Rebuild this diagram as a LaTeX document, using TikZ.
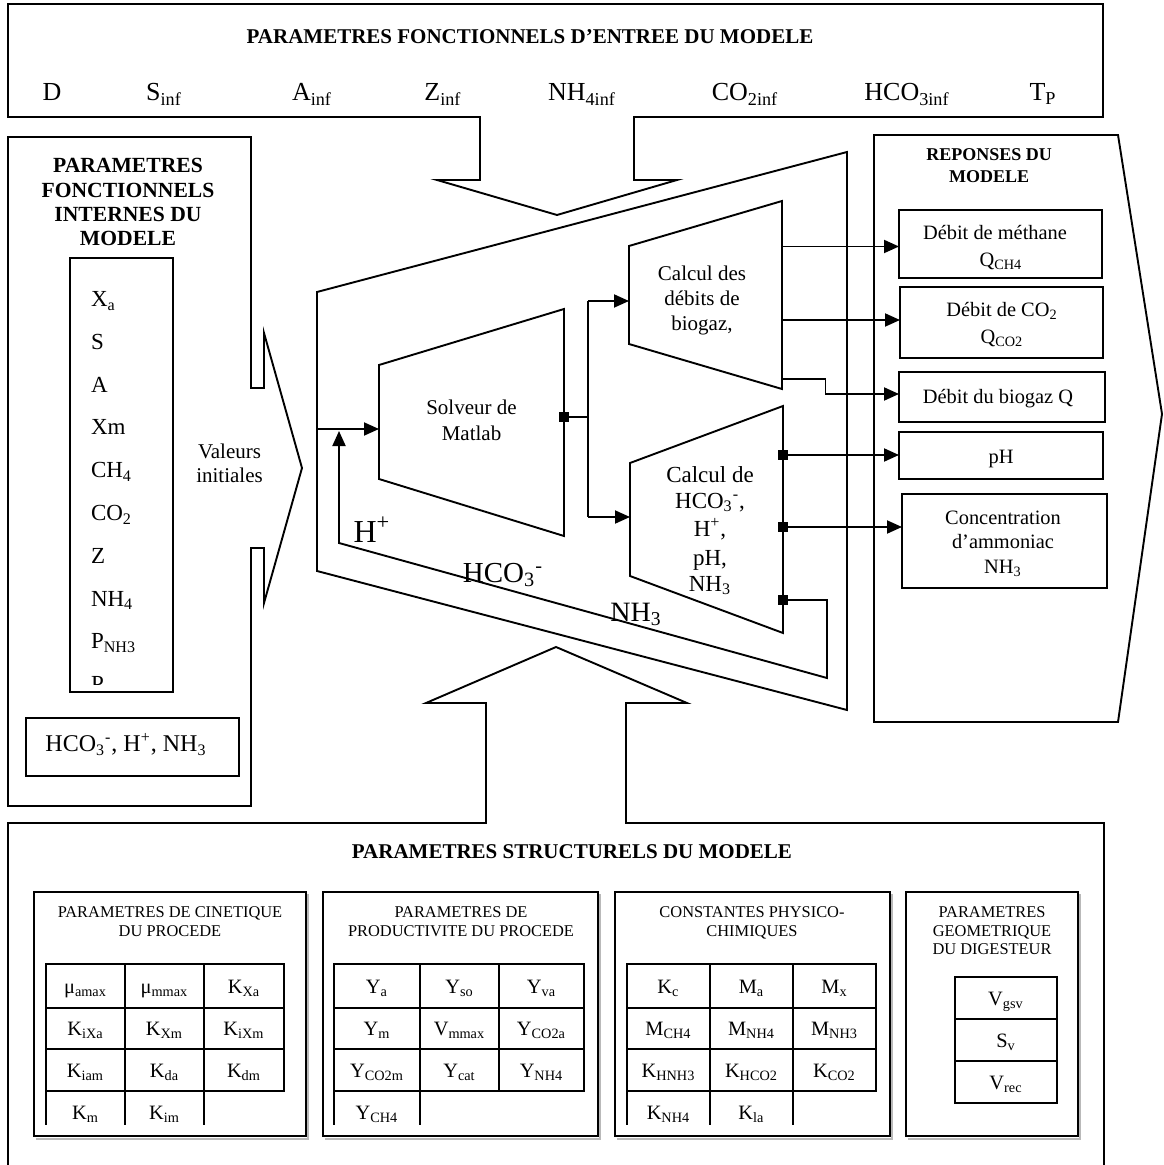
\documentclass[tikz,border=0pt]{standalone}
\usepackage{fontspec}
\setmainfont{Liberation Serif}
\usetikzlibrary{arrows.meta}
\newcommand{\myd}[1]{\textsubscript{#1}}
\newcommand{\myu}[1]{\textsuperscript{#1}}
\newcommand{\myfont}[1]{\fontsize{#1}{#1}\selectfont}
\begin{document}
\begin{tikzpicture}[x=0.5pt,y=-0.5pt,
  line width=0.95pt, line join=miter,
  every node/.style={inner sep=0pt,outer sep=0pt},
  t/.style={anchor=base},
  tw/.style={anchor=base west},
  arr/.style={-{Triangle[length=7.5pt,width=6.5pt]}},
  sqr/.style={fill=black,minimum size=5pt},
  rbox/.style={draw,line width=0.95pt},
  tb/.style={line width=1.1pt},
  shd/.style={draw=gray!55,line width=1pt},
  bt/.style={t,font=\myfont{10.5}\bfseries},
  it/.style={t,font=\myfont{13}},
  li/.style={tw,font=\myfont{11.5}},
  rt/.style={t,font=\myfont{10.2}},
  st/.style={t,font=\myfont{8.2}},
  ct/.style={t,font=\myfont{10.2}}
  ]
\useasboundingbox (0,0) rectangle (1163,1165);

% ---------------- top input box with down arrow
\draw (8,4) -- (1103,4) -- (1103,117) -- (634,117) -- (634,180) -- (677,180)
  -- (557,215) -- (437,180) -- (480,180) -- (480,117) -- (8,117) -- cycle;
\node[bt] (ttop) at (530,44) {PARAMETRES FONCTIONNELS D’ENTREE DU MODELE};
\node[it] (iD) at (52,101) {D};
\node[it] (iS) at (164,101) {S\myd{inf}};
\node[it] (iA) at (312,101) {A\myd{inf}};
\node[it] (iZ) at (443,101) {Z\myd{inf}};
\node[it] (iN) at (582,101) {NH\myd{4inf}};
\node[it] (iC) at (745,101) {CO\myd{2inf}};
\node[it] (iH) at (907,101) {HCO\myd{3inf}};
\node[it] (iT) at (1043,101) {T\myd{P}};

% ---------------- left panel with right arrow
\draw (8,137) -- (251,137) -- (251,388) -- (264,388) -- (264,333) -- (302,468)
  -- (264,603) -- (264,548) -- (251,548) -- (251,806) -- (8,806) -- cycle;
\node[t,font=\myfont{10.8}\bfseries] (lt1) at (128,173) {PARAMETRES};
\node[t,font=\myfont{10.8}\bfseries] (lt2) at (128,197.5) {FONCTIONNELS};
\node[t,font=\myfont{10.8}\bfseries] (lt3) at (128,222) {INTERNES DU};
\node[t,font=\myfont{10.8}\bfseries] (lt4) at (128,246) {MODELE};
\draw (70,258) rectangle (173,692);
\node[li] (l1) at (91,307) {X\myd{a}};
\node[li] (l2) at (91,349.7) {S};
\node[li] (l3) at (91,392.4) {A};
\node[li] (l4) at (91,435) {Xm};
\node[li] (l5) at (91,477.8) {CH\myd{4}};
\node[li] (l6) at (91,520.5) {CO\myd{2}};
\node[li] (l7) at (91,563.2) {Z};
\node[li] (l8) at (91,606) {NH\myd{4}};
\node[li] (l9) at (91,648.6) {P\myd{NH3}};
\begin{scope}
\clip (71,259) rectangle (172,684);
\node[li] (l10) at (91,691.3) {P};
\end{scope}
\node[t,font=\myfont{10.5}] (vi1) at (229.5,458) {Valeurs};
\node[t,font=\myfont{10.5}] (vi2) at (229.5,482.5) {initiales};
\draw (26,718) rectangle (239,776);
\node[t,font=\myfont{12}] (hb) at (126,751.5) {HCO\myd{3}\myu{-}, H\myu{+}, NH\myd{3}};

% ---------------- central processing block
\draw (317,292) -- (847,152) -- (847,710) -- (317,571) -- cycle;
% solver
\draw (379,365) -- (564,309) -- (564,536) -- (379,479) -- cycle;
\node[t,font=\myfont{10.5}] (sv1) at (471.5,415) {Solveur de};
\node[t,font=\myfont{10.5}] (sv2) at (471.5,440) {Matlab};
% upper calc
\draw (629,246) -- (782,201) -- (782,389) -- (629,344) -- cycle;
\node[t,font=\myfont{10.5}] (cu1) at (702,281) {Calcul des};
\node[t,font=\myfont{10.5}] (cu2) at (702,306) {débits de};
\node[t,font=\myfont{10.5}] (cu3) at (702,331) {biogaz,};
% lower calc
\draw (630,463) -- (783,406) -- (783,633) -- (630,576) -- cycle;
\node[t,font=\myfont{11.5}] (cl1) at (710,482) {Calcul de};
\node[t,font=\myfont{11.5}] (cl2) at (710,508) {HCO\myd{3}\myu{-},};
\node[t,font=\myfont{11.5}] (cl3) at (710,536.5) {H\myu{+},};
\node[t,font=\myfont{11.5}] (cl4) at (710,565) {pH,};
\node[t,font=\myfont{11.5}] (cl5) at (710,591) {NH\myd{3}};
% feedback labels
\node[t,font=\myfont{16}] (fH) at (372,542.5) {H\myu{+}};
\node[t,font=\myfont{14.5}] (fC) at (503,582.5) {HCO\myd{3}\myu{-}};
\node[t,font=\myfont{14}] (fN) at (636,621) {NH\myd{3}};

% connectors inside
\coordinate (inL) at (317,429);
\coordinate (solvL) at (379,429);
\draw[arr] (inL) -- (solvL);
\node[sqr] (sqS) at (564,417) {};
\coordinate (jS) at (588,417);
\coordinate (jU) at (588,301);
\coordinate (jD) at (588,517);
\coordinate (upL) at (629,301);
\coordinate (loL) at (630,517);
\draw (sqS.center) -- (jS);
\draw (jU) -- (jD);
\draw[arr] (jU) -- (upL);
\draw[arr] (jD) -- (loL);

\node[sqr] (sq1) at (783,455) {};
\node[sqr] (sq2) at (783,527) {};
\node[sqr] (sq3) at (783,600) {};
\coordinate (fb1) at (827,600);
\coordinate (fb2) at (827,678);
\coordinate (fb3) at (339,543);
\coordinate (fb4) at (339,431);
\draw[arr] (sq3.center) -- (fb1) -- (fb2) -- (fb3) -- (fb4);

% ---------------- bottom structural box with up arrow
\draw (8,1168) -- (8,823) -- (486,823) -- (486,703) -- (426,703) -- (556,647)
  -- (687,703) -- (626,703) -- (626,823) -- (1104,823) -- (1104,1168);
\node[bt] (tbot) at (572,858.5) {PARAMETRES STRUCTURELS DU MODELE};

% sub boxes
\draw[shd] (36,1138.5) -- (308,1138.5) -- (308,894);
\draw (34,892) rectangle (306,1136);
\draw[shd] (325,1138.5) -- (600,1138.5) -- (600,894);
\draw (323,892) rectangle (598,1136);
\draw[shd] (617,1138.5) -- (892,1138.5) -- (892,894);
\draw (615,892) rectangle (890,1136);
\draw[shd] (908,1138.5) -- (1080,1138.5) -- (1080,894);
\draw (906,892) rectangle (1078,1136);

\node[st] (s1a) at (170,917.5) {PARAMETRES DE CINETIQUE};
\node[st] (s1b) at (170,936) {DU PROCEDE};
\node[st] (s2a) at (461,917.5) {PARAMETRES DE};
\node[st] (s2b) at (461,936) {PRODUCTIVITE DU PROCEDE};
\node[st] (s3a) at (752,917.5) {CONSTANTES PHYSICO-};
\node[st] (s3b) at (752,936) {CHIMIQUES};
\node[st] (s4a) at (992,917.5) {PARAMETRES};
\node[st] (s4b) at (992,936) {GEOMETRIQUE};
\node[st] (s4c) at (992,954.5) {DU DIGESTEUR};

% table 1
\draw[tb] (46,964) rectangle (284,1091);
\draw[tb] (46,1008) -- (284,1008) (46,1049) -- (284,1049);
\draw[tb] (125,964) -- (125,1125) (204,964) -- (204,1125) (46,1091) -- (46,1125);
% table 2
\draw[tb] (334,964) rectangle (584,1091);
\draw[tb] (334,1008) -- (584,1008) (334,1049) -- (584,1049);
\draw[tb] (420,964) -- (420,1125) (499,964) -- (499,1091) (334,1091) -- (334,1125);
% table 3
\draw[tb] (627,964) rectangle (876,1091);
\draw[tb] (627,1008) -- (876,1008) (627,1049) -- (876,1049);
\draw[tb] (710,964) -- (710,1125) (793,964) -- (793,1125) (627,1091) -- (627,1125);
% table 4
\draw[tb] (955,977) rectangle (1057,1103);
\draw[tb] (955,1019) -- (1057,1019) (955,1061) -- (1057,1061);

% table 1 cells
\node[ct] (a11) at (85.5,993) {μ\myd{amax}};
\node[ct] (a12) at (164.5,993) {μ\myd{mmax}};
\node[ct] (a13) at (244,993) {K\myd{Xa}};
\node[ct] (a21) at (85.5,1035.5) {K\myd{iXa}};
\node[ct] (a22) at (164.5,1035.5) {K\myd{Xm}};
\node[ct] (a23) at (244,1035.5) {K\myd{iXm}};
\node[ct] (a31) at (85.5,1077) {K\myd{iam}};
\node[ct] (a32) at (164.5,1077) {K\myd{da}};
\node[ct] (a33) at (244,1077) {K\myd{dm}};
\node[ct] (a41) at (85.5,1119) {K\myd{m}};
\node[ct] (a42) at (164.5,1119) {K\myd{im}};
% table 2 cells
\node[ct] (b11) at (377,993) {Y\myd{a}};
\node[ct] (b12) at (459.5,993) {Y\myd{so}};
\node[ct] (b13) at (541.5,993) {Y\myd{va}};
\node[ct] (b21) at (377,1035.5) {Y\myd{m}};
\node[ct] (b22) at (459.5,1035.5) {V\myd{mmax}};
\node[ct] (b23) at (541.5,1035.5) {Y\myd{CO2a}};
\node[ct] (b31) at (377,1077) {Y\myd{CO2m}};
\node[ct] (b32) at (459.5,1077) {Y\myd{cat}};
\node[ct] (b33) at (541.5,1077) {Y\myd{NH4}};
\node[ct] (b41) at (377,1119) {Y\myd{CH4}};
% table 3 cells
\node[ct] (c11) at (668.5,993) {K\myd{c}};
\node[ct] (c12) at (751.5,993) {M\myd{a}};
\node[ct] (c13) at (834.5,993) {M\myd{x}};
\node[ct] (c21) at (668.5,1035.5) {M\myd{CH4}};
\node[ct] (c22) at (751.5,1035.5) {M\myd{NH4}};
\node[ct] (c23) at (834.5,1035.5) {M\myd{NH3}};
\node[ct] (c31) at (668.5,1077) {K\myd{HNH3}};
\node[ct] (c32) at (751.5,1077) {K\myd{HCO2}};
\node[ct] (c33) at (834.5,1077) {K\myd{CO2}};
\node[ct] (c41) at (668.5,1119) {K\myd{NH4}};
\node[ct] (c42) at (751.5,1119) {K\myd{la}};
% table 4 cells
\node[ct] (d1) at (1006,1005) {V\myd{gsv}};
\node[ct] (d2) at (1006,1047) {S\myd{v}};
\node[ct] (d3) at (1006,1089) {V\myd{rec}};

% ---------------- response panel
\draw (874,135) -- (1118,135) -- (1162,414) -- (1118,722) -- (874,722) -- cycle;
\node[t,font=\myfont{9}\bfseries] (rt1) at (989,161) {REPONSES DU};
\node[t,font=\myfont{9}\bfseries] (rt2) at (989,183) {MODELE};

\node[rbox,minimum width=101.5pt,minimum height=34pt] (r1) at (1000.5,244) {};
\node[rbox,minimum width=101.5pt,minimum height=35.5pt] (r2) at (1001.5,322.5) {};
\node[rbox,minimum width=103pt,minimum height=25pt] (r3) at (1002,397) {};
\node[rbox,minimum width=102pt,minimum height=23.5pt] (r4) at (1001,455.5) {};
\node[rbox,minimum width=102.5pt,minimum height=47pt] (r5) at (1004.5,541) {};

\node[rt] (r1a) at (995,240) {Débit de méthane};
\node[rt] (r1b) at (1001,267) {Q\myd{CH4}};
\node[rt] (r2a) at (1002,316.5) {Débit de CO\myd{2}};
\node[rt] (r2b) at (1002,343.5) {Q\myd{CO2}};
\node[rt] (r3a) at (998,403) {Débit du biogaz Q};
\node[rt] (r4a) at (1001,463) {pH};
\node[rt] (r5a) at (1003,524) {Concentration};
\node[rt] (r5b) at (1003,548.5) {d’ammoniac};
\node[rt] (r5c) at (1003,573) {NH\myd{3}};

% outputs
\coordinate (o1) at (782,246.5);
\coordinate (o2) at (782,320);
\coordinate (o3) at (782,379);
\coordinate (o3a) at (825.5,379);
\coordinate (o3b) at (825.5,394);
\draw[arr] (o1) -- (o1 -| r1.west);
\draw[arr] (o2) -- (o2 -| r2.west);
\draw[arr] (o3) -- (o3a) -- (o3b) -- (o3b -| r3.west);
\draw[arr] (sq1.center) -- (sq1.center -| r4.west);
\draw[arr] (sq2.center) -- (sq2.center -| r5.west);
\end{tikzpicture}
\end{document}
